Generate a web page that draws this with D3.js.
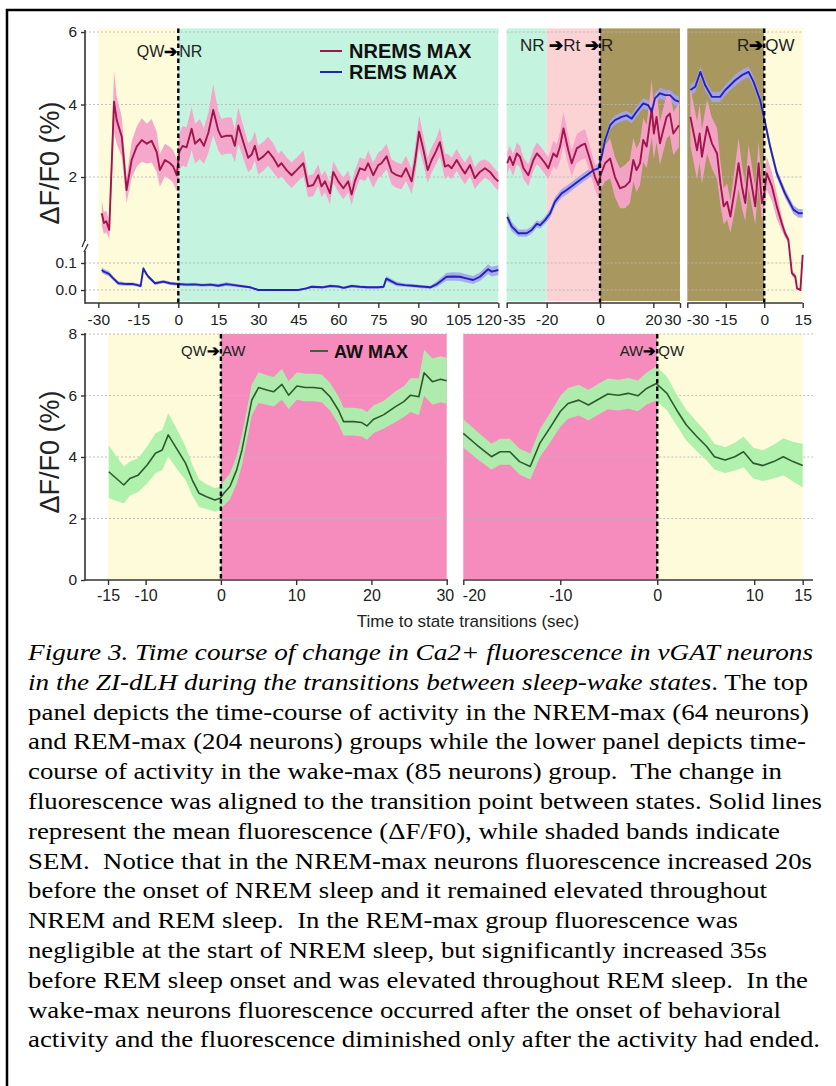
<!DOCTYPE html>
<html><head><meta charset="utf-8">
<script src="https://cdn.jsdelivr.net/npm/d3@7"></script>
<style>
body{margin:0;background:#fff}svg{display:block}
.sans{font-family:"Liberation Sans","Arimo",Arial,Helvetica,sans-serif}
.serif{font-family:"Liberation Serif","Tinos","Times New Roman","Noto Serif","DejaVu Serif Condensed","DejaVu Serif",serif;font-stretch:condensed}
</style>
</head><body><svg id="c" width="836" height="1086"></svg>
<script>
// ---------------- DATA ----------------
const topTicksY = [0, 0.1, 2, 4, 6];
const botTicksY = [0, 2, 4, 6, 8];
const xTicksQWNR = [-30,-15,0,15,30,45,60,75,90,105,120];
const xTicksNRR  = [-35,-20,0,20,30];
const xTicksRQW  = [-30,-15,0,15];
const xTicksQWAW = [-15,-10,0,10,20,30];
const xTicksAWQW = [-20,-10,0,10,15];

const statesQWNR = [["QW",-30,0],["NR",0,120]];
const statesNRR  = [["NR",-35,-20],["Rt",-20,0],["R",0,30]];
const statesRQW  = [["R",-30,0],["QW",0,15]];
const statesQWAW = [["QW",-15,0],["AW",0,30]];
const statesAWQW = [["AW",-20,0],["QW",0,15]];

const legendTop = ["NREMS MAX","REMS MAX"];
const legendBot = ["AW MAX"];

// [time (s), mean ΔF/F0 (%), SEM]
const nremQWNR = [[-28.7,1.00,.35],[-27.9,.73,.3],[-27,.78,.3],[-25.9,.54,.25],[-24.1,4.08,.85],[-23.1,3.57,.65],[-21.2,3.11,.55],[-19.4,1.64,.35],[-17.5,2.47,.5],[-15.6,2.84,.55],[-13.7,3.02,.6],[-11.8,2.92,.55],[-10,3.0,.6],[-8.1,2.69,.55],[-6.9,2.19,.45],[-5,2.47,.45],[-3.1,2.38,.45],[-1.9,2.29,.45],[-0.6,2.05,.45],[0.4,2.7,.5],[1.6,2.86,.55],[3.1,2.82,.55],[5,3.33,.6],[6.3,2.92,.55],[8.1,3.05,.55],[9.6,2.86,.5],[11.3,3.23,.55],[13.1,3.85,.7],[15,3.28,.55],[16.2,3.1,.5],[18.1,3.14,.5],[20,3.14,.5],[21.2,2.86,.45],[22.5,3.42,.5],[24.4,2.96,.45],[26.2,2.53,.4],[27.5,2.62,.4],[28.7,2.86,.4],[30,2.47,.4],[31.9,2.57,.4],[33.7,2.71,.4],[35.6,2.53,.4],[37.5,2.29,.35],[38.7,2.38,.35],[40.6,2.19,.35],[42.5,2.05,.35],[44.4,2.19,.35],[46.9,2.38,.35],[48.7,1.74,.3],[50.6,1.78,.3],[52.5,2.05,.3],[53.7,1.74,.3],[55,1.88,.3],[56.9,1.55,.3],[58.1,2.14,.3],[60,1.88,.3],[61.9,1.69,.3],[63.7,1.88,.3],[65,1.52,.3],[66.2,1.88,.3],[68.1,2.24,.3],[70,2.19,.3],[71.2,2.38,.35],[73.1,2.05,.35],[75,2.33,.35],[76.2,2.38,.35],[78.1,2.57,.35],[80,2.14,.35],[81.9,2.05,.35],[83.7,2.01,.35],[85.4,2.24,.35],[87.5,1.88,.35],[88.7,2.38,.4],[90.3,3.25,.45],[91.9,2.76,.4],[93.5,2.19,.35],[95,2.47,.35],[96.6,2.7,.35],[98.1,2.96,.4],[100,2.29,.35],[101.2,2.33,.3],[102.5,2.24,.3],[104.4,2.47,.3],[106.2,2.24,.3],[107.5,2.1,.3],[109.4,2.33,.3],[111.2,1.97,.3],[113.1,2.14,.3],[115,2.24,.25],[116.9,2.14,.25],[118.7,1.97,.25],[120,1.88,.25]];

const remQWNR = [[-28.7,.074,.01],[-27.9,.068,.01],[-26,.060,.009],[-24.4,.043,.008],[-22.5,.025,.007],[-19.4,.022,.006],[-17,.022,.006],[-15.6,.019,.006],[-14.1,.015,.006],[-13.1,.080,.008],[-12,.060,.008],[-11.2,.049,.007],[-8.7,.025,.006],[-5.6,.031,.006],[-3.1,.025,.006],[0,.022,.006],[3,.020,.006],[6,.021,.006],[9,.018,.006],[12,.020,.006],[15,.016,.006],[18,.022,.007],[21,.018,.006],[24,.014,.005],[27,.010,.004],[30,0,.002],[35,0,.001],[40,0,.001],[45,0,.002],[48,.006,.004],[50,.012,.005],[54,.010,.005],[57,.015,.005],[60,.013,.005],[62,.008,.005],[65,.015,.005],[68,.012,.005],[71,.010,.005],[75,.010,.005],[77,.012,.005],[78,.042,.01],[82,.022,.008],[85,.018,.006],[88,.016,.006],[91,.013,.006],[94.5,.010,.006],[97,.022,.01],[100.6,.049,.015],[103,.050,.016],[105.6,.049,.016],[108,.043,.015],[110.6,.037,.015],[113.1,.049,.016],[116.2,.077,.018],[117.5,.068,.018],[120,.074,.018]];

const nremNRR = [[-34.8,2.38,.3],[-33.9,2.56,.3],[-32.6,2.33,.3],[-31.2,2.65,.3],[-30,2.56,.3],[-28.7,2.24,.3],[-26.9,2.05,.3],[-25,2.47,.3],[-23.7,2.65,.3],[-22.5,2.56,.3],[-20.6,2.38,.3],[-19.4,2.24,.3],[-17.5,2.65,.35],[-16.2,2.56,.35],[-15,2.84,.4],[-13.7,3.34,.45],[-11.9,2.74,.4],[-10.6,2.38,.35],[-8.7,2.79,.4],[-6.9,2.88,.4],[-5.6,2.92,.4],[-3.7,2.47,.35],[-1.9,2.0,.35],[-0.6,1.78,.35],[0.2,2.05,.4],[1.9,2.38,.5],[3.8,2.51,.55],[5.6,2.0,.55],[7.5,1.69,.55],[9.4,1.74,.6],[11.2,1.88,.6],[12.5,2.47,.6],[13.7,2.19,.6],[15,2.38,.6],[16.2,3.02,.6],[17.5,2.84,.6],[18.5,3.39,.7],[19.4,3.89,.8],[20.2,3.2,.7],[21.2,3.66,.7],[22.5,2.93,.6],[23.7,3.29,.6],[25,3.66,.6],[26.2,3.75,.6],[27.5,3.2,.6],[29.6,3.43,.6]];

const remNRR = [[-34.8,.90,.15],[-33.1,.63,.13],[-30.6,.45,.1],[-27.5,.45,.1],[-25.6,.54,.1],[-23.7,.71,.1],[-22.5,.67,.1],[-20.6,.81,.1],[-18.7,1.0,.12],[-16.9,1.32,.12],[-14.4,1.55,.12],[-12.5,1.64,.12],[-10,1.78,.12],[-7.5,1.92,.12],[-5,2.05,.12],[-2.5,2.19,.12],[-0.6,2.24,.12],[0.6,2.56,.13],[1.9,3.02,.13],[3.8,3.43,.13],[5.6,3.57,.13],[8.1,3.66,.13],[10,3.7,.13],[11.9,3.61,.13],[13.7,3.8,.14],[16.2,4.03,.14],[18.1,3.98,.14],[19.4,3.8,.14],[20.6,4.17,.15],[22.5,4.31,.15],[24.4,4.26,.15],[26.2,4.26,.15],[28.1,4.12,.15],[29.6,4.08,.15]];

const nremRQW = [[-28.8,3.66,.8],[-27.5,3.2,.8],[-26.2,2.74,.8],[-25.2,3.2,.8],[-24.3,2.56,.75],[-22.3,3.39,.75],[-20.4,2.93,.7],[-18.4,2.65,.7],[-17.1,1.83,.6],[-15.8,1.19,.5],[-14.5,1.32,.5],[-13.2,.91,.45],[-11.3,1.74,.6],[-10,2.38,.7],[-8.7,1.74,.6],[-7.4,1.28,.5],[-6.1,2.29,.6],[-4.8,1.74,.55],[-3.5,1.19,.5],[-2.2,2.38,.6],[-0.9,1.28,.5],[0,1.55,.45],[1.0,2.1,.45],[3,1.74,.4],[4.9,1.19,.35],[6.8,.73,.2],[8.1,.45,.12],[9.4,.27,.08],[10.8,.062,.01],[12.1,.05,.01],[12.8,.006,.005],[14.1,0,.004],[15,.13,.01]];

const remRQW = [[-28.8,4.4,.15],[-26.9,4.49,.15],[-24.9,4.9,.15],[-23,4.53,.15],[-20.4,4.21,.14],[-17.2,4.21,.14],[-15.2,4.4,.14],[-13.9,4.49,.14],[-11.3,4.67,.15],[-8.7,4.81,.15],[-6.1,4.9,.15],[-4.2,4.63,.15],[-1.6,4.12,.15],[0.4,3.48,.14],[2.3,2.84,.13],[4.9,2.1,.12],[8.1,1.55,.12],[11.4,1.1,.12],[13.4,1.0,.12],[15,1.0,.12]];

const awQWAW = [[-14.9,3.52,.85],[-12.9,3.09,.6],[-12.1,3.3,.55],[-11,3.41,.55],[-9.8,3.74,.6],[-8.7,4.12,.65],[-7.8,4.23,.65],[-7,4.72,.7],[-5.9,4.28,.65],[-4.7,3.8,.55],[-3.8,3.25,.5],[-2.9,2.82,.45],[-1.9,2.71,.4],[-0.8,2.6,.38],[-0.1,2.66,.38],[0.4,2.82,.4],[1.2,3.04,.42],[2.1,3.58,.45],[2.8,4.23,.5],[3.5,5.1,.5],[4.1,5.85,.5],[5,6.26,.5],[6.1,6.18,.48],[7,6.12,.48],[8.1,6.36,.5],[9,6.01,.45],[10.1,6.31,.45],[11.2,6.26,.45],[12.3,6.26,.45],[13.4,6.23,.45],[14.5,5.96,.45],[15.6,5.53,.45],[16.3,5.15,.45],[17.6,5.15,.45],[18.7,5.12,.45],[19.4,5.01,.45],[20.3,5.23,.45],[21.6,5.37,.45],[23.2,5.64,.5],[24.3,5.8,.5],[25.2,6.01,.55],[26.3,5.96,.6],[27,6.74,.75],[28.1,6.45,.75],[29.2,6.53,.75],[30,6.48,.75]];

const awAWQW = [[-20,4.77,.46],[-18.6,4.39,.45],[-17.1,4.01,.42],[-16.2,4.17,.42],[-15.2,4.17,.42],[-14.2,3.85,.42],[-13.1,3.69,.42],[-12.1,4.45,.45],[-11.1,4.93,.48],[-10,5.48,.5],[-9.2,5.74,.5],[-8.1,5.85,.5],[-7.1,5.69,.5],[-6.1,5.87,.5],[-5.1,6.05,.5],[-4,6.01,.5],[-3,6.07,.5],[-2,5.99,.5],[-1.1,6.23,.52],[-0.1,6.39,.55],[1,6.07,.55],[2,5.53,.5],[3,5.04,.5],[4.1,4.66,.48],[5.1,4.34,.45],[5.9,4.01,.42],[7,3.9,.42],[8,4.01,.45],[8.9,4.17,.5],[9.9,3.8,.5],[10.9,3.72,.5],[12,3.85,.55],[13,4.01,.6],[14,3.85,.65],[15,3.72,.7]];

const captionLines = [
  [["Figure 3. Time course of change in Ca2+ fluorescence in vGAT neurons", true]],
  [["in the ZI-dLH during the transitions between sleep-wake states", true], [". The top", false]],
  [["panel depicts the time-course of activity in the NREM-max (64 neurons)", false]],
  [["and REM-max (204 neurons) groups while the lower panel depicts time-", false]],
  [["course of activity in the wake-max (85 neurons) group.\u00a0 The change in", false]],
  [["fluorescence was aligned to the transition point between states. Solid lines", false]],
  [["represent the mean fluorescence (\u0394F/F0), while shaded bands indicate", false]],
  [["SEM.\u00a0 Notice that in the NREM-max neurons fluorescence increased 20s", false]],
  [["before the onset of NREM sleep and it remained elevated throughout", false]],
  [["NREM and REM sleep.\u00a0 In the REM-max group fluorescence was", false]],
  [["negligible at the start of NREM sleep, but significantly increased 35s", false]],
  [["before REM sleep onset and was elevated throughout REM sleep.\u00a0 In the", false]],
  [["wake-max neurons fluorescence occurred after the onset of behavioral", false]],
  [["activity and the fluorescence diminished only after the activity had ended.", false]]
];

// ---------------- STYLE / LAYOUT ----------------
const stateColor = {QW:"#fdfbd9", NR:"#c4f4e0", Rt:"#fbd3d4", R:"#a8975f", AW:"#f68cbd"};
const col = {
  nremLine:"#a0164c", nremBand:"#f5a3c9",
  remLine:"#2424b4", remBand:"#a4a4ee",
  awLine:"#2c5a2c", awBand:"#abf0ab",
  axis:"#333", grid:"#b8b8b8", text:"#222"
};
const svg = d3.select("#c");

// frame
svg.append("line").attr("x1",7).attr("x2",7).attr("y1",9).attr("y2",1086).attr("stroke","#000").attr("stroke-width",2.5);
svg.append("line").attr("x1",6).attr("x2",836).attr("y1",10).attr("y2",10).attr("stroke","#000").attr("stroke-width",2.5);

// scales
const yTop = d3.scaleLinear().domain([-0.048, 0.148, 0.18, 6.1]).range([303, 250, 243, 28.4]);
const yBot = d3.scaleLinear().domain([0, 8]).range([580, 334]);

const topPanels = [
  {x: d3.scaleLinear().domain([-30,120]).range([98.3,498.3]), states: statesQWNR, ticks: xTicksQWNR, axisFrom: 85,
   series: [[remQWNR,"rem"],[nremQWNR,"nrem"]], lastAnchor:["end",3]},
  {x: d3.scaleLinear().domain([-35,30]).range([506.7,680]), states: statesNRR, ticks: xTicksNRR,
   series: [[remNRR,"rem"],[nremNRR,"nrem"]], firstAnchor:["start",-4], lastAnchor:["end",1]},
  {x: d3.scaleLinear().domain([-30,15]).range([687.3,802.7]), states: statesRQW, ticks: xTicksRQW,
   series: [[remRQW,"rem"],[nremRQW,"nrem"]], firstAnchor:["start",-1]}
];
const botPanels = [
  {x: d3.scaleLinear().domain([-15,30]).range([108,446.7]), states: statesQWAW, ticks: xTicksQWAW, axisFrom: 85, axisTo: 448,
   series: [[awQWAW,"aw"]], lastAnchor:["end",7]},
  {x: d3.scaleLinear().domain([-20,15]).range([463.3,802.7]), states: statesAWQW, ticks: xTicksAWQW, axisTo: 813,
   series: [[awAWQW,"aw"]], firstAnchor:["start",-1]}
];

function drawPanel(p, y, yTopVal, bgBottom, axisY, gridVals, tickPad, fs) {
  const g = svg.append("g");
  const [x0, x1] = p.x.range();
  const gx0 = p.axisFrom !== undefined ? p.axisFrom : x0;
  const gx1 = p.axisTo !== undefined ? p.axisTo : x1;
  g.selectAll("rect.bg").data(p.states).join("rect")
    .attr("x", d => p.x(d[1])).attr("width", d => p.x(d[2]) - p.x(d[1]))
    .attr("y", y(yTopVal)).attr("height", bgBottom - y(yTopVal))
    .attr("fill", d => stateColor[d[0]]);
  g.selectAll("line.grid").data(gridVals).join("line")
    .attr("x1", gx0).attr("x2", gx1).attr("y1", d => y(d)).attr("y2", d => y(d))
    .attr("stroke", col.grid).attr("stroke-width", 0.9).attr("stroke-dasharray", "2,2");
  const area = d3.area().x(d => p.x(d[0])).y0(d => y(d[1] - d[2])).y1(d => y(d[1] + d[2]));
  const line = d3.line().x(d => p.x(d[0])).y(d => y(d[1]));
  p.series.forEach(([data, k]) => {
    g.append("path").attr("d", area(data)).attr("fill", col[k+"Band"]).attr("opacity", k === "rem" ? 0.9 : 0.95);
  });
  const order = p.series.slice().sort((a,b) => (a[1]==="rem") - (b[1]==="rem"));
  order.forEach(([data, k]) => {
    g.append("path").attr("d", line(data)).attr("fill", "none").attr("stroke", col[k+"Line"])
      .attr("stroke-width", k === "aw" ? 1.6 : 1.9).attr("stroke-linejoin", "round");
  });
  g.append("line").attr("x1", p.x(0)).attr("x2", p.x(0)).attr("y1", y(yTopVal)).attr("y2", axisY)
    .attr("stroke", "#000").attr("stroke-width", 2.4).attr("stroke-dasharray", "4.5,3");
  const ax = g.append("g").attr("transform", `translate(0,${axisY})`)
    .call(d3.axisBottom(p.x).tickValues(p.ticks).tickFormat(d3.format("d")).tickSizeInner(5).tickSizeOuter(0).tickPadding(tickPad));
  ax.select(".domain").remove();
  ax.append("line").attr("x1", gx0).attr("x2", gx1).attr("stroke", col.axis).attr("stroke-width", 1.6);
  ax.selectAll(".tick line").attr("stroke", col.axis).attr("stroke-width", 1.4);
  ax.attr("font-family", null).attr("font-size", null);
  ax.selectAll(".tick text").attr("class","sans").attr("fill", col.text).style("font-size", fs + "px")
    .text(d => d < 0 ? "-" + Math.abs(d) : d);
  const texts = ax.selectAll(".tick text").nodes();
  if (p.firstAnchor) d3.select(texts[0]).attr("text-anchor", p.firstAnchor[0]).attr("dx", p.firstAnchor[1]);
  if (p.lastAnchor) d3.select(texts[texts.length-1]).attr("text-anchor", p.lastAnchor[0]).attr("dx", p.lastAnchor[1]);
  return g;
}

topPanels.forEach(p => drawPanel(p, yTop, 6.1, 301, 303, topTicksY, 6, 15.5));
botPanels.forEach(p => drawPanel(p, yBot, 8, 579, 580, [2,4,6,8], 5, 16));

function yAxis(y, vals, fmt) {
  const g = svg.append("g").attr("transform", "translate(85,0)")
    .call(d3.axisLeft(y).tickValues(vals).tickFormat(fmt).tickSizeInner(4).tickSizeOuter(0).tickPadding(4));
  g.select(".domain").remove();
  g.attr("font-family", null).attr("font-size", null);
  g.selectAll(".tick line").attr("stroke", col.axis).attr("stroke-width", 1.4);
  g.selectAll(".tick text").attr("class","sans").attr("fill", col.text).style("font-size", "15.5px");
  return g;
}
const gyT = yAxis(yTop, topTicksY, d => d < 1 ? d3.format(".1f")(d) : d3.format("d")(d));
gyT.append("line").attr("x1",0).attr("x2",0).attr("y1",30).attr("y2",241).attr("stroke",col.axis).attr("stroke-width",1.6);
gyT.append("line").attr("x1",0).attr("x2",0).attr("y1",251).attr("y2",303.8).attr("stroke",col.axis).attr("stroke-width",1.6);
gyT.append("path").attr("d","M-3,247 L0,240 M-1,252 L3,244").attr("stroke",col.axis).attr("stroke-width",1.3).attr("fill","none");
const gyB = yAxis(yBot, botTicksY, d3.format("d"));
gyB.append("line").attr("x1",0).attr("x2",0).attr("y1",333).attr("y2",580.8).attr("stroke",col.axis).attr("stroke-width",1.6);

// y axis titles
[163, 452].forEach(cy => {
  svg.append("text").attr("class","sans").attr("transform", `translate(50,${cy}) rotate(-90)`)
    .attr("text-anchor","middle").attr("dominant-baseline","central")
    .style("font-size","27px").attr("fill", col.text).text("\u0394F/F0 (%)");
});

// transition labels (heavy arrow glyph)
function transLabel(x, y, left, right, size) {
  const tl = svg.append("text").attr("class","sans").attr("x", x - 1).attr("y", y).attr("text-anchor","end")
    .style("font-size", size + "px").attr("fill","#222");
  left.split("\u2794").forEach((s, i, arr) => {
    tl.append("tspan").text(s);
    if (i < arr.length - 1) tl.append("tspan").attr("font-weight","bold").attr("fill","#000").text("\u2794");
  });
  svg.append("text").attr("class","sans").attr("x", x + 1).attr("y", y).attr("text-anchor","start")
    .style("font-size", size + "px").attr("fill","#222").text(right);
}
transLabel(topPanels[0].x(0), 57, "QW\u2794", "NR", 16);
transLabel(topPanels[1].x(0), 51, "NR \u2794Rt \u2794", "R", 17);
transLabel(topPanels[2].x(0), 51, "R\u2794", "QW", 17);
transLabel(botPanels[0].x(0), 356, "QW\u2794", "AW", 15);
transLabel(botPanels[1].x(0), 356, "AW\u2794", "QW", 15);

// legends
legendTop.forEach((name, i) => {
  const yy = 51 + i * 21;
  svg.append("line").attr("x1",320).attr("x2",342).attr("y1",yy).attr("y2",yy)
    .attr("stroke", i === 0 ? col.nremLine : col.remLine).attr("stroke-width",2);
  svg.append("text").attr("class","sans").attr("x",349).attr("y",yy+7).attr("font-weight","bold")
    .style("font-size","20px").attr("fill","#111").text(name);
});
legendBot.forEach(name => {
  svg.append("line").attr("x1",310).attr("x2",328).attr("y1",351).attr("y2",351).attr("stroke",col.awLine).attr("stroke-width",1.8);
  svg.append("text").attr("class","sans").attr("x",334).attr("y",357.5).attr("font-weight","bold")
    .style("font-size","18px").attr("fill","#111").text(name);
});

// x axis title
svg.append("text").attr("class","sans").attr("x",468).attr("y",627).attr("text-anchor","middle")
  .style("font-size","17px").attr("fill","#222").text("Time to state transitions (sec)");

// caption
const capEnds = [813, 808, 809, 806, 782, 822, 780, 812, 767, 738, 767, 808, 781, 820];
captionLines.forEach((parts, i) => {
  const t = svg.append("text").attr("class","serif").attr("x", 28).attr("y", 660 + i * 29.8)
    .style("font-size","22.5px").attr("fill","#000")
    .attr("textLength", capEnds[i] - 28).attr("lengthAdjust","spacingAndGlyphs");
  parts.forEach(([s, it]) => t.append("tspan").attr("font-style", it ? "italic" : "normal").text(s));
});
</script></body></html>
